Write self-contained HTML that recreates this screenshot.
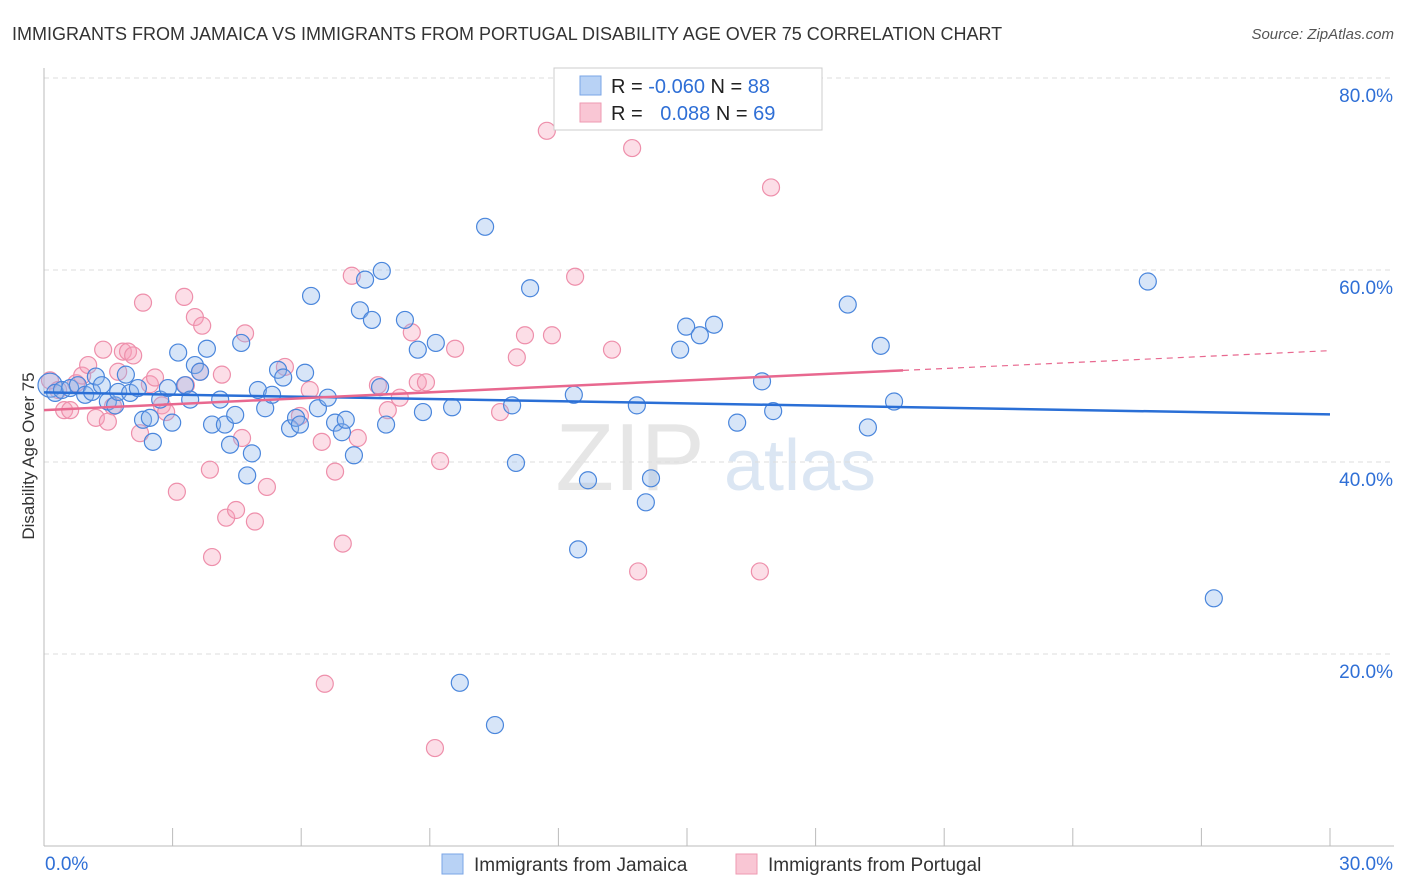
<!DOCTYPE html>
<html><head><meta charset="utf-8"><style>
body{margin:0;background:#fff;font-family:"Liberation Sans",sans-serif;}
#wrap{position:relative;width:1406px;height:892px;overflow:hidden;}
svg text{font-family:"Liberation Sans",sans-serif;}
</style></head><body>
<div id="wrap">
<svg id="chart" width="1406" height="892">
<text x="12" y="40" font-size="18" fill="#333">IMMIGRANTS FROM JAMAICA VS IMMIGRANTS FROM PORTUGAL DISABILITY AGE OVER 75 CORRELATION CHART</text>
<text x="1394" y="39" font-size="15" fill="#555" font-style="italic" text-anchor="end">Source: ZipAtlas.com</text>
<text x="34" y="456" font-size="17" fill="#333" text-anchor="middle" transform="rotate(-90 34 456)">Disability Age Over 75</text>
<text x="630" y="490" font-size="96" fill="#e6e6e6" text-anchor="middle" font-family="Liberation Serif">ZIP</text>
<text x="800" y="490" font-size="72" fill="#dbe6f3" text-anchor="middle">atlas</text>
<g id="grid"></g><g id="axes"></g><g id="pts"></g><g id="trend"></g>
<g>
<rect x="554" y="68" width="268" height="62" fill="#fff" stroke="#ccc"/>
<rect x="580" y="76" width="21" height="19" fill="#b8d2f5" stroke="#7aa5e6"/>
<rect x="580" y="103" width="21" height="19" fill="#f9c6d4" stroke="#ee9ab2"/>
<text x="611" y="93" font-size="20" fill="#222">R = <tspan fill="#2f6fd6">-0.060</tspan>   N = <tspan fill="#2f6fd6">88</tspan></text>
<text x="611" y="120" font-size="20" fill="#222">R = <tspan fill="#2f6fd6" dx="12">0.088</tspan>   N = <tspan fill="#2f6fd6">69</tspan></text>
</g>
<g>
<rect x="442" y="854" width="21" height="20" fill="#b8d2f5" stroke="#7aa5e6"/>
<text x="474" y="871" font-size="19" fill="#333">Immigrants from Jamaica</text>
<rect x="736" y="854" width="21" height="20" fill="#f9c6d4" stroke="#ee9ab2"/>
<text x="768" y="871" font-size="19" fill="#333">Immigrants from Portugal</text>
</g>
</svg></div>
<script>
const blueX=[0.14,0.26,0.42,0.61,0.79,0.96,1.12,1.21,1.35,1.49,1.66,1.73,1.91,2.01,2.19,2.31,2.47,2.54,2.71,2.89,2.99,3.13,3.29,3.41,3.52,3.64,3.80,3.92,4.11,4.22,4.34,4.46,4.60,4.74,4.85,4.99,5.16,5.32,5.46,5.58,5.74,5.88,5.97,6.09,6.23,6.39,6.62,6.79,6.95,7.04,7.23,7.37,7.49,7.65,7.84,7.88,7.98,8.42,8.72,8.84,9.14,9.52,9.70,10.29,10.52,10.92,11.01,11.34,12.36,12.46,12.69,13.83,14.04,14.16,14.84,14.98,15.30,15.63,16.17,16.75,17.01,18.75,19.22,19.52,19.83,25.75,27.29];
const blueY=[48.0,47.2,47.5,47.7,48.0,47.0,47.3,48.9,48.0,46.3,45.9,47.3,49.1,47.2,47.7,44.4,44.6,42.1,46.5,47.7,44.1,51.4,48.0,46.5,50.1,49.4,51.8,43.9,46.5,43.9,41.8,44.9,52.4,38.6,40.9,47.5,45.6,47.0,49.6,48.8,43.5,44.6,43.9,49.3,57.3,45.6,46.7,44.1,43.1,44.4,40.7,55.8,59.0,54.8,47.8,59.9,43.9,54.8,51.7,45.2,52.4,45.7,17.0,64.5,12.6,45.9,39.9,58.1,47.0,30.9,38.1,45.9,35.8,38.3,51.7,54.1,53.2,54.3,44.1,48.4,45.3,56.4,43.6,52.1,46.3,58.8,25.8];
const pinkX=[0.14,0.33,0.47,0.61,0.75,0.89,1.03,1.21,1.38,1.49,1.61,1.73,1.84,1.96,2.08,2.24,2.31,2.47,2.59,2.75,2.85,3.10,3.27,3.31,3.52,3.64,3.69,3.87,3.92,4.15,4.25,4.48,4.62,4.69,4.92,5.20,5.62,5.97,6.20,6.48,6.55,6.79,6.97,7.18,7.32,7.79,8.02,8.30,8.58,8.72,8.91,9.12,9.24,9.59,10.64,11.03,11.22,11.73,11.85,12.39,13.25,13.72,13.86,16.70,16.96];
const pinkY=[48.5,47.5,45.4,45.4,48.2,49.0,50.1,44.6,51.7,44.2,45.8,49.4,51.5,51.5,51.1,43.0,56.6,48.1,48.8,45.9,45.2,36.9,57.2,48.0,55.1,49.4,54.2,39.2,30.1,49.1,34.2,35.0,42.5,53.4,33.8,37.4,49.9,44.8,47.5,42.1,16.9,39.0,31.5,59.4,42.5,48.0,45.4,46.7,53.5,48.3,48.3,10.2,40.1,51.8,45.2,50.9,53.2,74.5,53.2,59.3,51.7,72.7,28.6,28.6,68.6];
const blueTrend=[47.25,44.96];
const pinkTrend=[45.4,51.6];
const pinkSolidEnd=20.04;
const yTicks=[20,40,60,80];
const xTickLabels=["0.0%","30.0%"];
const NS="http://www.w3.org/2000/svg";
const X0=44,X1=1330,Y0=846,PPY=9.6;
const sx=v=>X0+(v/30)*(X1-X0), sy=v=>Y0-v*PPY;
function mk(t,a,p){const e=document.createElementNS(NS,t);for(const k in a)e.setAttribute(k,a[k]);p.appendChild(e);return e;}
const grid=document.getElementById('grid'),axes=document.getElementById('axes'),pts=document.getElementById('pts'),trend=document.getElementById('trend');
yTicks.forEach(t=>{
 const l=mk('line',{x1:X0,x2:1394,y1:sy(t),y2:sy(t),stroke:'#ddd','stroke-dasharray':'5,4'},grid);
 
 
 const tx=mk('text',{x:1393,y:sy(t)+24,'font-size':19,fill:'#2f6fd6','text-anchor':'end'},grid);
 tx.textContent=t.toFixed(1)+'%';
 
 
});
const ax=mk('line',{x1:X0,x2:X0,y1:68,y2:Y0,stroke:'#bbb'},axes);


const bx=mk('line',{x1:X0,x2:1394,y1:Y0,y2:Y0,stroke:'#bbb'},axes);


for(let i=0;i<=10;i++){const x=X0+i*(X1-X0)/10;
 const t=mk('line',{x1:x,x2:x,y1:828,y2:Y0,stroke:'#bbb'},axes);
 
 }
[[0,'start',45],[30,'end',1393]].forEach((d,i)=>{
 const t=mk('text',{x:d[2],y:870,'font-size':19,fill:'#2f6fd6','text-anchor':d[1]},axes);
 t.textContent=xTickLabels[i];
 
 });
function dots(xs,ys,fill,stroke,name){xs.forEach((x,i)=>{
 const c=mk('circle',{cx:sx(x),cy:sy(ys[i]),r:(i===0&&name==='jamaica-point')?12:8.5,fill:fill,stroke:stroke,'stroke-width':1.2},pts);
 
 });}
dots(pinkX,pinkY,'rgba(245,160,185,0.35)','#ee8fab','portugal-point');
dots(blueX,blueY,'rgba(140,180,235,0.35)','#4a86dc','jamaica-point');
const bl=mk('line',{x1:sx(0),y1:sy(blueTrend[0]),x2:sx(30),y2:sy(blueTrend[1]),stroke:'#2a6fd6','stroke-width':2.5},trend);


const pm=pinkTrend[0]+(pinkTrend[1]-pinkTrend[0])*pinkSolidEnd/30;
const pl=mk('line',{x1:sx(0),y1:sy(pinkTrend[0]),x2:sx(pinkSolidEnd),y2:sy(pm),stroke:'#e8688f','stroke-width':2.5},trend);


const pd=mk('line',{x1:sx(pinkSolidEnd),y1:sy(pm),x2:sx(30),y2:sy(pinkTrend[1]),stroke:'#e8688f','stroke-width':1.2,'stroke-dasharray':'6,5'},trend);


</script></body></html>
